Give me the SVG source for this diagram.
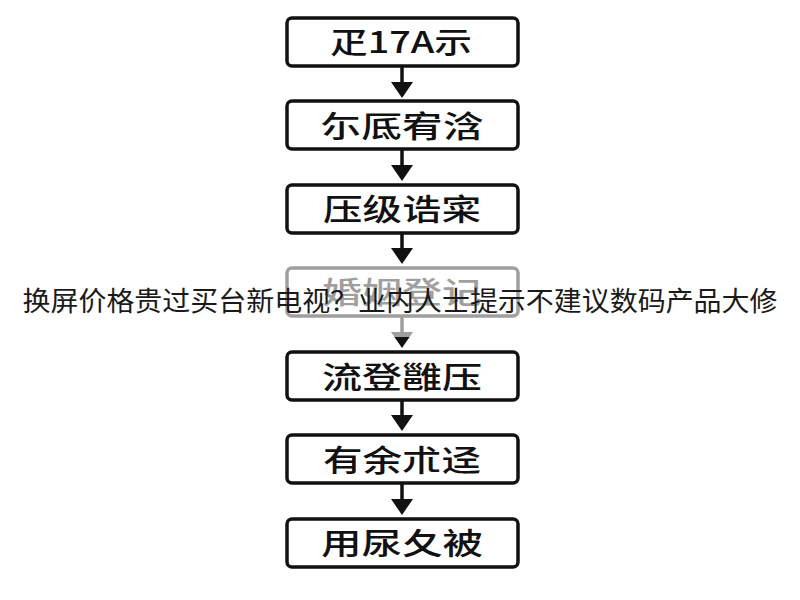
<svg xmlns="http://www.w3.org/2000/svg" width="800" height="600" viewBox="0 0 800 600">
<style>
.box{fill:#fff;stroke:#111;stroke-width:3.5}
.lbl{font-family:"Noto Sans CJK SC","Noto Sans CJK JP",sans-serif;font-weight:500;font-size:30px;fill:#111;text-anchor:middle}
.stem{stroke:#111;stroke-width:3.5;fill:none}
.head{fill:#111}
.cap{font-family:"Noto Sans CJK SC","Noto Sans CJK JP",sans-serif;font-size:27px;fill:#1a1a1a;text-anchor:middle}
</style>
<rect width="800" height="600" fill="#fff"/>
<g id="connectors">
<path class="stem" d="M402 66V84"/><polygon class="head" points="391,82 413,82 402,98"/>
<path class="stem" d="M402 149V167"/><polygon class="head" points="391,165 413,165 402,181"/>
<path class="stem" d="M402 233V250"/><polygon class="head" points="391,248 413,248 402,264"/>
<path class="stem" d="M402 316V334"/><polygon class="head" points="391,332 413,332 402,348"/>
<path class="stem" d="M402 400V417"/><polygon class="head" points="391,415 413,415 402,431"/>
<path class="stem" d="M402 483V501"/><polygon class="head" points="391,499 413,499 402,515"/>
</g>
<g id="n1"><rect class="box" x="287" y="18" width="231" height="48" rx="5"/><text class="lbl" x="401" y="53" textLength="142" lengthAdjust="spacingAndGlyphs">疋17A示</text></g>
<g id="n2"><rect class="box" x="287" y="101" width="231" height="48" rx="5"/><text class="lbl" x="402" y="137" textLength="163" lengthAdjust="spacingAndGlyphs">尓厎宥浛</text></g>
<g id="n3"><rect class="box" x="287" y="185" width="231" height="48" rx="5"/><text class="lbl" x="402" y="220" textLength="158" lengthAdjust="spacingAndGlyphs">压级诰寀</text></g>
<g id="n4"><rect class="box" x="287" y="268" width="231" height="48" rx="5"/><text class="lbl" x="402" y="303" textLength="160" lengthAdjust="spacingAndGlyphs">婚姻登记</text></g>
<g id="n5"><rect class="box" x="287" y="352" width="231" height="48" rx="5"/><text class="lbl" x="402" y="388" textLength="160" lengthAdjust="spacingAndGlyphs">流登雝压</text></g>
<g id="n6"><rect class="box" x="287" y="435" width="231" height="48" rx="5"/><text class="lbl" x="402" y="471" textLength="158" lengthAdjust="spacingAndGlyphs">有余朮迳</text></g>
<g id="n7"><rect class="box" x="287" y="519" width="231" height="48" rx="5"/><text class="lbl" x="402" y="554" textLength="162" lengthAdjust="spacingAndGlyphs">用尿夂被</text></g>
<rect x="0" y="264" width="800" height="73" fill="#fff" fill-opacity="0.6"/>
<text class="cap" x="400" y="311" textLength="755" lengthAdjust="spacingAndGlyphs">换屏价格贵过买台新电视？业内人士提示不建议数码产品大修</text>
</svg>
